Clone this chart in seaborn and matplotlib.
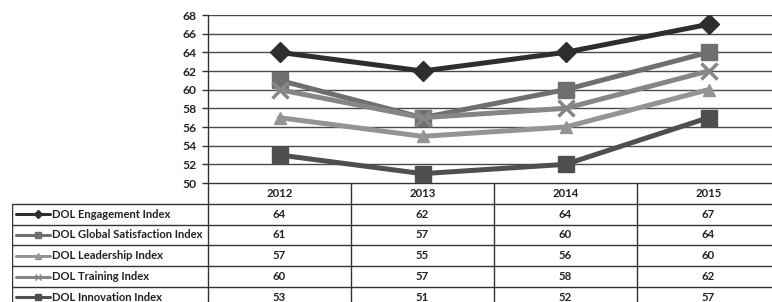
import pandas as pd
import matplotlib.pyplot as plt
import seaborn as sns

# Данные с графика
years = ["2012", "2013", "2014", "2015"]
series_names = [
    "DOL Engagement Index",
    "DOL Global Satisfaction Index",
    "DOL Leadership Index",
    "DOL Training Index",
    "DOL Innovation Index",
]
engagement = [64, 62, 64, 67]
global_satisfaction = [61, 57, 60, 64]
leadership = [57, 55, 56, 60]
training = [60, 57, 58, 62]
innovation = [53, 51, 52, 57]

values = [engagement, global_satisfaction, leadership, training, innovation]

# стиль каждой серии: цвет, маркер, размер маркера
styles = {
    "DOL Engagement Index": ("#2e2e2e", "D", 10.5),
    "DOL Global Satisfaction Index": ("#6f6f6f", "s", 11),
    "DOL Leadership Index": ("#949494", "^", 8),
    "DOL Training Index": ("#868686", "x", 11),
    "DOL Innovation Index": ("#4f4f4f", "s", 11),
}

rows = []
for name, vals in zip(series_names, values):
    for i, (yr, v) in enumerate(zip(years, vals)):
        rows.append({"Series": name, "Year": yr, "pos": i, "Value": v})
df = pd.DataFrame(rows)

sns.set_theme(style="white")
plt.rcParams["font.family"] = ["Lato", "DejaVu Sans"]

W, H = 772, 302
fig = plt.figure(figsize=(W / 100, H / 100), dpi=100)

# геометрия в пикселях
ax_left, ax_right, ax_top, ax_bottom = 208, 780, 15, 183
col_w = (ax_right - ax_left) / len(years)
legend_left = 12
row_h = 20.8

ax = fig.add_axes([ax_left / W, 1 - ax_bottom / H,
                   (ax_right - ax_left) / W, (ax_bottom - ax_top) / H])

for name in series_names:
    color, marker, ms = styles[name]
    sub = df[df["Series"] == name]
    sns.lineplot(data=sub, x="pos", y="Value", ax=ax, color=color,
                 marker=marker, markersize=ms, linewidth=3.6,
                 markeredgecolor=color, markeredgewidth=2.5 if marker == "x" else 1,
                 legend=False)

ax.set_xlim(-0.5, len(years) - 0.5)
ax.set_ylim(50, 68)
ax.set_yticks(range(50, 69, 2))
ax.set_xticks([])
ax.set_xlabel("")
ax.set_ylabel("")
ax.yaxis.grid(True, color="#4a4a4a", linewidth=1.0)
ax.set_axisbelow(True)
for side in ["top", "right", "bottom"]:
    ax.spines[side].set_visible(False)
ax.spines["left"].set_color("#333333")
ax.spines["left"].set_linewidth(1.0)
ax.tick_params(axis="y", length=4, width=1, color="#333333", pad=4,
               labelsize=8.7, left=True)
for lbl in ax.get_yticklabels():
    lbl.set_fontweight("bold")
    lbl.set_color("#222222")

# таблица данных под графиком
tab_top = ax_bottom
n_rows = len(series_names) + 1
tab_bottom = tab_top + n_rows * row_h
x_min = -0.5 - (ax_left - legend_left) / col_w
tab = fig.add_axes([legend_left / W, 1 - tab_bottom / H,
                    (ax_right - legend_left) / W, (tab_bottom - tab_top) / H])
tab.set_xlim(x_min, len(years) - 0.5)
tab.set_ylim(n_rows, 0)
tab.axis("off")

line_kw = dict(color="#333333", linewidth=1.0)
# горизонтальные линии
tab.plot([-0.5, len(years) - 0.5], [0, 0], **line_kw)
for r in range(1, n_rows + 1):
    tab.plot([x_min, len(years) - 0.5], [r, r], **line_kw)
# вертикальные линии
tab.plot([x_min, x_min], [1, n_rows], **line_kw)
for c in range(len(years)):
    tab.plot([c - 0.5, c - 0.5], [0, n_rows], **line_kw)

for c, yr in enumerate(years):
    tab.text(c, 0.5, yr, ha="center", va="center", fontsize=8.2,
             fontweight="bold", color="#222222")

px = 1 / col_w
for r, (name, vals) in enumerate(zip(series_names, values), start=1):
    color, marker, ms = styles[name]
    key_x0 = x_min + 4 * px
    key_x1 = x_min + 38 * px
    tab.plot([key_x0, key_x1], [r + 0.5, r + 0.5], color=color, linewidth=2.2)
    tab.plot([x_min + 26 * px], [r + 0.5], marker=marker, color=color,
             markersize=4, markeredgecolor=color)
    tab.text(x_min + 40 * px, r + 0.5, name, ha="left", va="center",
             fontsize=8.1, fontweight="bold", color="#222222")
    for c, v in enumerate(vals):
        tab.text(c, r + 0.5, str(v), ha="center", va="center", fontsize=8.2,
                 fontweight="bold", color="#222222")

fig.savefig("out.png", dpi=100, facecolor="white")
